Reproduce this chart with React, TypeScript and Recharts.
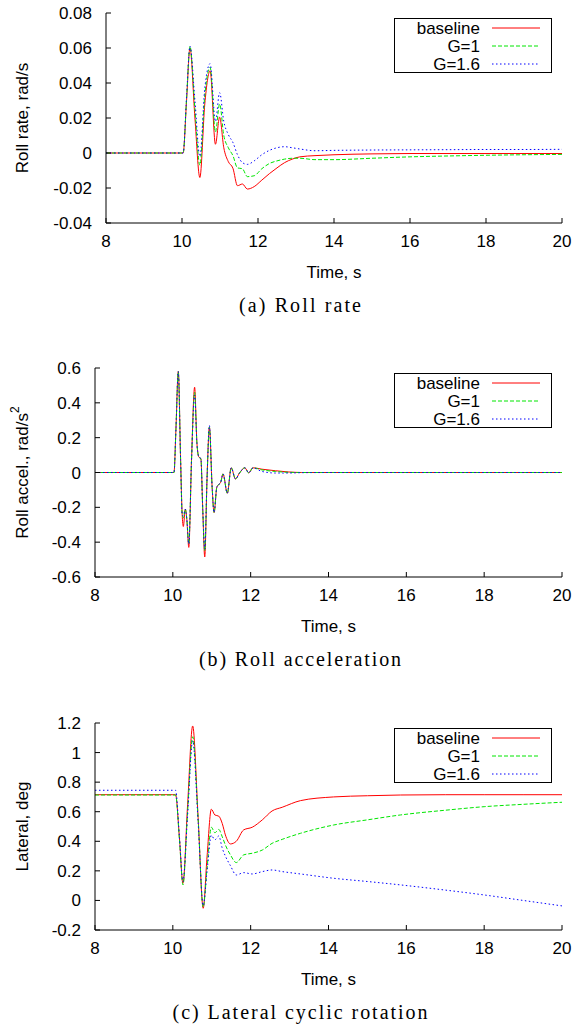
import { LineChart, Line, XAxis, YAxis } from 'recharts';

const xTicks = [8, 10, 12, 14, 16, 18, 20];

// (a) roll rate, rad/s
const rateTime = [8, 10, 10.03, 10.12, 10.21, 10.34, 10.47, 10.6, 10.74, 10.88, 10.99, 11.1, 11.22, 11.34, 11.46, 11.59, 11.72, 11.9, 12.1, 12.3, 12.5, 12.7, 12.9, 13.1, 13.5, 14, 15, 16, 17, 18, 19, 20];
const rateBaseline = [0, 0, 0, 0.03, 0.06, 0.02, -0.014, 0.028, 0.047, 0.005, 0.0205, 0.003, -0.005, -0.0087, -0.0187, -0.0177, -0.0206, -0.0192, -0.0155, -0.0118, -0.0085, -0.0055, -0.0035, -0.0022, -0.0015, -0.001, -0.0005, -0.0003, -0.0003, -0.0003, -0.0003, -0.0003];
const rateG1 = [0, 0, 0, 0.031, 0.061, 0.025, -0.007, 0.033, 0.049, 0.012, 0.028, 0.01, 0.003, -0.0015, -0.0085, -0.009, -0.0135, -0.013, -0.009, -0.006, -0.0045, -0.0035, -0.003, -0.003, -0.0038, -0.0038, -0.003, -0.0022, -0.0017, -0.0013, -0.001, -0.0008];
const rateG16 = [0, 0, 0, 0.032, 0.061, 0.03, -0.002, 0.037, 0.051, 0.018, 0.0345, 0.018, 0.0105, 0.006, -0.001, -0.0055, -0.0065, -0.0045, -0.001, 0.0015, 0.003, 0.0036, 0.003, 0.0023, 0.0013, 0.0015, 0.0017, 0.0018, 0.0019, 0.002, 0.002, 0.0021];
const rateTicks = [-0.04, -0.02, 0, 0.02, 0.04, 0.06, 0.08];

// (b) roll acceleration, rad/s^2
const accelTime = [8, 10, 10.03, 10.08, 10.14, 10.2, 10.24, 10.27, 10.32, 10.36, 10.41, 10.48, 10.56, 10.62, 10.67, 10.72, 10.77, 10.82, 10.88, 10.94, 11.01, 11.06, 11.13, 11.18, 11.23, 11.29, 11.4, 11.5, 11.61, 11.71, 11.85, 11.95, 12.06, 12.29, 12.64, 12.98, 13.3, 14, 20];
const accelBaseline = [0, 0, 0, 0.25, 0.58, 0.07, -0.24, -0.31, -0.21, -0.27, -0.43, 0.07, 0.49, 0.165, 0.088, 0.08, -0.22, -0.485, -0.027, 0.26, -0.085, -0.23, -0.085, -0.069, -0.056, -0.008, -0.119, 0.027, -0.037, -0.004, 0.027, -0.002, 0.027, 0.019, 0.01, 0.003, 0, 0, 0];
const accelG1 = [0, 0, 0, 0.25, 0.58, 0.07, -0.24, -0.26, -0.21, -0.27, -0.41, 0.07, 0.46, 0.165, 0.088, 0.08, -0.22, -0.45, -0.027, 0.26, -0.085, -0.23, -0.085, -0.069, -0.056, -0.008, -0.119, 0.027, -0.037, -0.004, 0.027, -0.002, 0.027, 0.015, 0.006, 0.001, 0, 0, 0];
const accelG16 = [0, 0, 0, 0.25, 0.58, 0.07, -0.24, -0.25, -0.21, -0.27, -0.41, 0.07, 0.445, 0.165, 0.088, 0.08, -0.22, -0.44, -0.027, 0.27, -0.085, -0.23, -0.085, -0.069, -0.056, -0.008, -0.119, 0.027, -0.037, -0.004, 0.027, -0.002, 0.027, 0.006, -0.003, -0.003, -0.001, 0, 0];
const accelTicks = [-0.6, -0.4, -0.2, 0, 0.2, 0.4, 0.6];

// (c) lateral cyclic, deg
const latTime = [8, 10, 10.07, 10.17, 10.26, 10.38, 10.51, 10.65, 10.78, 10.88, 10.99, 11.08, 11.18, 11.27, 11.35, 11.48, 11.63, 11.82, 12.04, 12.3, 12.55, 12.81, 13.28, 14.13, 15, 15.85, 17, 18, 19, 20];
const latBaseline = [0.715, 0.715, 0.715, 0.42, 0.116, 0.65, 1.18, 0.56, -0.053, 0.3, 0.617, 0.578, 0.57, 0.52, 0.443, 0.382, 0.4, 0.477, 0.495, 0.545, 0.605, 0.63, 0.675, 0.7, 0.708, 0.713, 0.715, 0.715, 0.715, 0.715];
const latG1 = [0.713, 0.713, 0.713, 0.41, 0.105, 0.6, 1.107, 0.55, -0.045, 0.22, 0.495, 0.458, 0.48, 0.43, 0.375, 0.308, 0.256, 0.308, 0.319, 0.341, 0.386, 0.413, 0.454, 0.51, 0.545, 0.578, 0.61, 0.634, 0.65, 0.664];
const latG16 = [0.745, 0.745, 0.745, 0.43, 0.127, 0.58, 1.08, 0.53, -0.035, 0.2, 0.44, 0.41, 0.436, 0.353, 0.3, 0.235, 0.172, 0.188, 0.179, 0.195, 0.206, 0.195, 0.179, 0.15, 0.128, 0.105, 0.07, 0.037, 0, -0.037];
const latTicks = [-0.2, 0, 0.2, 0.4, 0.6, 0.8, 1, 1.2];

const SERIES = [
  { key: 'baseline', name: 'baseline', color: '#ff0000', dash: undefined as string | undefined },
  { key: 'g1', name: 'G=1', color: '#00e600', dash: '4 2' },
  { key: 'g16', name: 'G=1.6', color: '#0000ff', dash: '1.5 2.5' },
];

const SANS = '"Liberation Sans", Arial, sans-serif';
const SERIF = '"Liberation Serif", "DejaVu Serif", serif';
const W = 574;
const H = 300;
const RIGHT = 12;

type PanelProps = {
  top: number;
  plotLeft: number;
  plotTop: number;
  plotBottom: number;
  time: number[];
  a: number[];
  b: number[];
  c: number[];
  ticks: number[];
  yTitle: React.ReactNode;
  caption: string;
  captionWidth: number;
};

function Panel({ top, plotLeft, plotTop, plotBottom, time, a, b, c, ticks, yTitle, caption, captionWidth }: PanelProps) {
  const data = time.map((t, i) => ({ t, baseline: a[i], g1: b[i], g16: c[i] }));
  const domain = [ticks[0], ticks[ticks.length - 1]];
  const axisStyle = { stroke: '#000', strokeWidth: 1 };
  const tickStyle = { fill: '#000', fontSize: 17, fontFamily: SANS };
  const plotRight = W - RIGHT;
  const cx = (plotLeft + plotRight) / 2;
  const cy = (plotTop + plotBottom) / 2;
  const lx = 394.5;
  const ly = plotTop + 5.5;

  return (
    <div style={{ position: 'absolute', left: 0, top, width: W, height: 320 }}>
      <LineChart width={W} height={H} data={data} margin={{ top: plotTop, right: RIGHT, bottom: 0, left: 0 }}>
        <XAxis
          dataKey="t"
          type="number"
          domain={[8, 20]}
          ticks={xTicks}
          allowDataOverflow
          height={H - plotBottom}
          axisLine={axisStyle}
          tickLine={axisStyle}
          tickSize={-5}
          tickMargin={17}
          tick={tickStyle}
        />
        <XAxis
          xAxisId="top"
          orientation="top"
          dataKey="t"
          type="number"
          domain={[8, 20]}
          ticks={xTicks}
          allowDataOverflow
          height={0}
          axisLine={axisStyle}
          tickLine={axisStyle}
          tickSize={-5}
          tick={false}
        />
        <YAxis
          type="number"
          domain={domain}
          ticks={ticks}
          allowDataOverflow
          width={plotLeft}
          axisLine={axisStyle}
          tickLine={axisStyle}
          tickSize={-5}
          tickMargin={19}
          tick={tickStyle}
        />
        <YAxis
          yAxisId="right"
          orientation="right"
          type="number"
          domain={domain}
          ticks={ticks}
          allowDataOverflow
          width={0}
          axisLine={axisStyle}
          tickLine={axisStyle}
          tickSize={-5}
          tick={false}
        />
        {SERIES.map((s) => (
          <Line
            key={s.key}
            dataKey={s.key}
            name={s.name}
            type="monotone"
            stroke={s.color}
            strokeWidth={1}
            strokeDasharray={s.dash}
            dot={false}
            isAnimationActive={false}
          />
        ))}
      </LineChart>
      <svg width={W} height={320} style={{ position: 'absolute', left: 0, top: 0, pointerEvents: 'none' }}>
        <text
          x={22}
          y={cy}
          transform={`rotate(-90 22 ${cy})`}
          textAnchor="middle"
          dominantBaseline="central"
          fontFamily={SANS}
          fontSize={17}
        >
          {yTitle}
        </text>
        <text x={cx} y={plotBottom + 55} textAnchor="middle" fontFamily={SANS} fontSize={17}>
          Time, s
        </text>
        <text
          x={300 - captionWidth / 2}
          y={plotBottom + 88.5}
          fontFamily={SERIF}
          fontSize={20}
          textLength={captionWidth}
          lengthAdjust="spacing"
        >
          {caption}
        </text>
        <rect x={lx} y={ly} width={157} height={54} fill="none" stroke="#000" strokeWidth={1} />
        {SERIES.map((s, i) => {
          const ry = ly + 9.5 + i * 18;
          return (
            <g key={s.key}>
              <text x={480} y={ry + 6} textAnchor="end" fontFamily={SANS} fontSize={17}>
                {s.name}
              </text>
              <line x1={492} x2={540} y1={ry} y2={ry} stroke={s.color} strokeWidth={1} strokeDasharray={s.dash} />
            </g>
          );
        })}
      </svg>
    </div>
  );
}

export default function App() {
  return (
    <div style={{ position: 'absolute', left: 0, top: 0, width: W, height: 1028, background: '#fff' }}>
      <Panel
        top={0}
        plotLeft={106}
        plotTop={13}
        plotBottom={223}
        time={rateTime}
        a={rateBaseline}
        b={rateG1}
        c={rateG16}
        ticks={rateTicks}
        yTitle="Roll rate, rad/s"
        caption="(a) Roll rate"
        captionWidth={122}
      />
      <Panel
        top={355}
        plotLeft={95}
        plotTop={13}
        plotBottom={222}
        time={accelTime}
        a={accelBaseline}
        b={accelG1}
        c={accelG16}
        ticks={accelTicks}
        yTitle={
          <>
            Roll accel., rad/s
            <tspan fontSize={12} dy={-7}>2</tspan>
          </>
        }
        caption="(b) Roll acceleration"
        captionWidth={202}
      />
      <Panel
        top={710}
        plotLeft={95}
        plotTop={13}
        plotBottom={220}
        time={latTime}
        a={latBaseline}
        b={latG1}
        c={latG16}
        ticks={latTicks}
        yTitle="Lateral, deg"
        caption="(c) Lateral cyclic rotation"
        captionWidth={255}
      />
    </div>
  );
}
